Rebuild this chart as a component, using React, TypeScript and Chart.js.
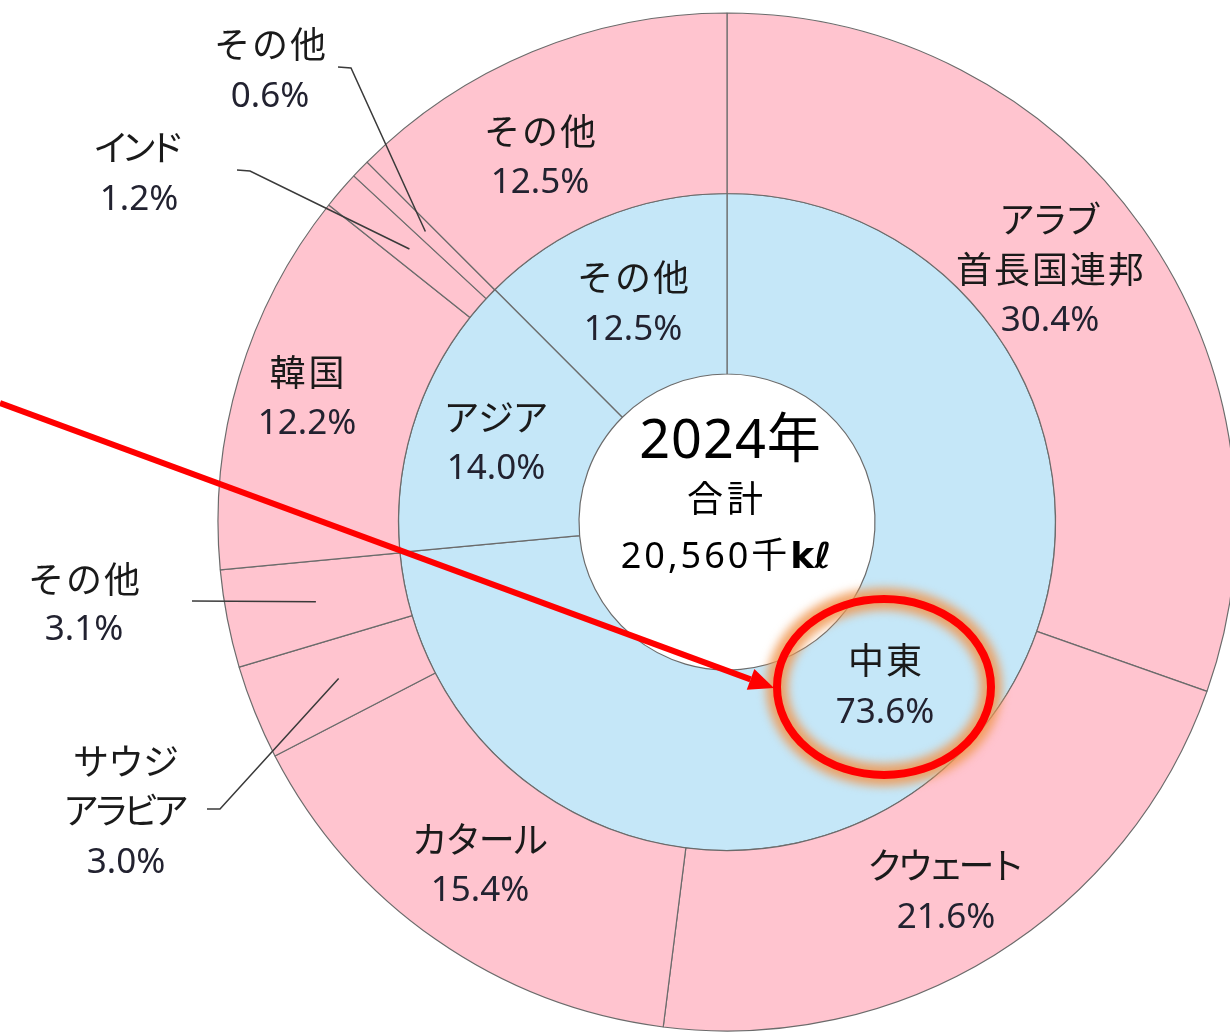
import { useEffect, useRef } from 'react';
import { Chart, registerables } from 'chart.js';

Chart.register(...registerables);

// ---- data ----
const outerCategories = ['アラブ\n首長国連邦', 'クウェート', 'カタール', 'サウジ\nアラビア', 'その他', '韓国', 'インド', 'その他', 'その他'];
const outerValues = [30.4, 21.6, 15.4, 3.0, 3.1, 12.2, 1.2, 0.6, 12.5];
const innerCategories = ['中東', 'アジア', 'その他'];
const innerValues = [73.6, 14.0, 12.5];
const centerYear = '2024年';
const centerCaption = '合計';
const totalAmount = '20,560';
const totalPrefix = '千';
const totalUnit = 'kℓ';

// ---- layout / style ----
type LabelLayout = { x: number; ys: number[]; ls: number[]; leader?: number[][] };
const outerLabelLayout: LabelLayout[] = [
  { x: 1050, ys: [220, 270, 318], ls: [-3, 2] },
  { x: 946, ys: [866, 915], ls: [-5.5] },
  { x: 480, ys: [840, 888], ls: [-2.5] },
  { x: 126, ys: [762, 811, 860], ls: [-1, -6], leader: [[207, 809], [220, 809]] },
  { x: 84, ys: [580, 627], ls: [2], leader: [[192, 601]] },
  { x: 307, ys: [373, 421], ls: [3] },
  { x: 139, ys: [148, 197], ls: [-8], leader: [[237, 170], [250, 171]] },
  { x: 270, ys: [45, 94], ls: [2], leader: [[338, 67], [351, 68]] },
  { x: 540, ys: [132, 180], ls: [2] },
];
const innerLabelLayout: LabelLayout[] = [
  { x: 885, ys: [661, 710], ls: [2] },
  { x: 496, ys: [418, 466], ls: [-1.5] },
  { x: 633, ys: [278, 327], ls: [2] },
];

const PINK = '#FFC4CF';
const BLUE = '#C5E7F8';
const EDGE = '#6b6b6b';
const NAME_FONT = '36px "Noto Sans CJK JP"';
const PCT_FONT = '35px "Noto Sans", "Noto Sans CJK JP"';

function drawLine(ctx: CanvasRenderingContext2D, text: string, cx: number, midY: number, font: string, size: number, ls: number, color: string) {
  ctx.font = font;
  (ctx as any).letterSpacing = ls + 'px';
  const w = ctx.measureText(text).width - ls;
  ctx.textAlign = 'left';
  ctx.textBaseline = 'alphabetic';
  ctx.fillStyle = color;
  ctx.fillText(text, cx - w / 2, midY + 0.37 * size);
  (ctx as any).letterSpacing = '0px';
}

function drawLabel(ctx: CanvasRenderingContext2D, name: string, value: number, lay: LabelLayout) {
  const lines = name.split('\n');
  lines.forEach((ln, i) => drawLine(ctx, ln, lay.x, lay.ys[i], NAME_FONT, 36, lay.ls[i] ?? 0, '#1a1a1a'));
  drawLine(ctx, value.toFixed(1) + '%', lay.x, lay.ys[lines.length], PCT_FONT, 35, 0, '#222230');
}

const overlayPlugin = {
  id: 'overlay',
  afterDatasetsDraw(chart: any) {
    const ctx: CanvasRenderingContext2D = chart.ctx;
    const outerMeta = chart.getDatasetMeta(0);
    ctx.save();

    // leader lines
    ctx.strokeStyle = '#3a3a3a';
    ctx.lineWidth = 1.5;
    outerLabelLayout.forEach((lay, i) => {
      if (!lay.leader) return;
      const p = outerMeta.data[i].getCenterPoint();
      ctx.beginPath();
      ctx.moveTo(lay.leader[0][0], lay.leader[0][1]);
      for (let k = 1; k < lay.leader.length; k++) ctx.lineTo(lay.leader[k][0], lay.leader[k][1]);
      ctx.lineTo(p.x, p.y);
      ctx.stroke();
    });

    // highlight glow (under labels)
    ctx.save();
    (ctx as any).filter = 'blur(5px)';
    ctx.strokeStyle = 'rgba(240,150,80,0.85)';
    ctx.lineWidth = 22;
    ctx.beginPath();
    ctx.ellipse(884, 687, 107, 88, 0, 0, Math.PI * 2);
    ctx.stroke();
    ctx.restore();

    // labels
    outerCategories.forEach((c, i) => drawLabel(ctx, c, outerValues[i], outerLabelLayout[i]));
    innerCategories.forEach((c, i) => drawLabel(ctx, c, innerValues[i], innerLabelLayout[i]));

    // center text
    const cx = outerMeta.data[0].x;
    drawLine(ctx, centerYear, cx + 3, 438, '54px "Noto Sans", "Noto Sans CJK JP"', 54, 1, '#000');
    drawLine(ctx, centerCaption, cx - 2, 499, NAME_FONT, 36, 4, '#000');
    const parts = [
      { t: totalAmount, f: '36px "Noto Sans"', ls: 3 },
      { t: totalPrefix, f: '36px "Noto Sans CJK JP"', ls: 3 },
      { t: totalUnit, f: 'bold 36px "DejaVu Sans"', ls: 0 },
    ];
    let total = 0;
    const widths = parts.map((p) => {
      ctx.font = p.f;
      (ctx as any).letterSpacing = p.ls + 'px';
      const w = ctx.measureText(p.t).width;
      total += w;
      return w;
    });
    let x = cx - 1 - total / 2;
    parts.forEach((p, i) => {
      ctx.font = p.f;
      (ctx as any).letterSpacing = p.ls + 'px';
      ctx.textAlign = 'left';
      ctx.textBaseline = 'alphabetic';
      ctx.fillStyle = '#000';
      ctx.fillText(p.t, x, 555 + 0.37 * 36);
      x += widths[i];
    });
    (ctx as any).letterSpacing = '0px';

    // red arrow
    const tail = [0, 403];
    const tip = [774, 688];
    const ang = Math.atan2(tip[1] - tail[1], tip[0] - tail[0]);
    const headLen = 25;
    const headHalf = 11;
    const bx = tip[0] - headLen * Math.cos(ang);
    const by = tip[1] - headLen * Math.sin(ang);
    ctx.strokeStyle = '#FF0000';
    ctx.fillStyle = '#FF0000';
    ctx.lineWidth = 6;
    ctx.beginPath();
    ctx.moveTo(tail[0], tail[1]);
    ctx.lineTo(bx, by);
    ctx.stroke();
    ctx.beginPath();
    ctx.moveTo(tip[0], tip[1]);
    ctx.lineTo(bx + headHalf * Math.sin(ang), by - headHalf * Math.cos(ang));
    ctx.lineTo(bx - headHalf * Math.sin(ang), by + headHalf * Math.cos(ang));
    ctx.closePath();
    ctx.fill();

    // highlight ellipse
    ctx.strokeStyle = '#FF0000';
    ctx.lineWidth = 8;
    ctx.beginPath();
    ctx.ellipse(884, 687, 107, 88, 0, 0, Math.PI * 2);
    ctx.stroke();

    ctx.restore();
  },
};

export default function App() {
  const ref = useRef<HTMLCanvasElement | null>(null);
  useEffect(() => {
    if (!ref.current) return;
    const chart = new Chart(ref.current, {
      type: 'doughnut',
      data: {
        labels: outerCategories,
        datasets: [
          { data: outerValues, backgroundColor: PINK, borderColor: EDGE, borderWidth: 1.2, hoverOffset: 0 },
          { data: innerValues, backgroundColor: BLUE, borderColor: EDGE, borderWidth: 1.2, hoverOffset: 0 },
        ],
      },
      options: {
        responsive: false,
        animation: false,
        devicePixelRatio: 1,
        events: [],
        radius: 509,
        cutout: '29.08%',
        layout: { padding: { left: 207, right: 13, top: 2, bottom: 8 } },
        plugins: { legend: { display: false }, tooltip: { enabled: false } },
      } as any,
      plugins: [overlayPlugin],
    });
    return () => chart.destroy();
  }, []);
  return (
    <div style={{ position: 'fixed', left: 0, top: 0, width: 1230, height: 1034, overflow: 'hidden', background: '#fff' }}>
      <canvas ref={ref} width={1260} height={1050} style={{ display: 'block', width: 1260, height: 1050 }} />
    </div>
  );
}
